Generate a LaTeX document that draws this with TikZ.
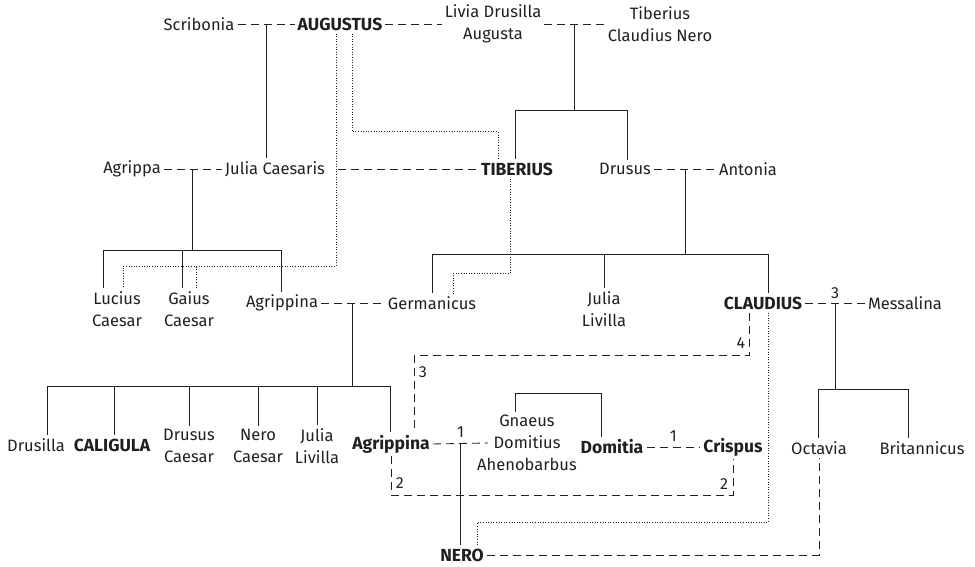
\documentclass[tikz,border=0pt]{standalone}
\usepackage{fontspec}
\setmainfont{Fira Sans}
\definecolor{ink}{RGB}{35,31,32}
\tikzset{
  person/.style={inner sep=3pt, align=center, text=ink, font=\fontsize{16.5}{22}\selectfont},
  ruler/.style={person, font=\fontsize{17.5}{22}\selectfont\bfseries},
  descent/.style={draw=ink, line width=0.9pt},
  marriage/.style={draw=ink, line width=0.9pt, dash pattern=on 8pt off 5pt},
  adoption/.style={draw=ink, line width=0.9pt, dash pattern=on 1pt off 1.6pt},
  nb/.style={inner sep=1.5pt, text=ink, font=\fontsize{16}{17}\selectfont}
}
\begin{document}
\begin{tikzpicture}[x=1pt, y=-1pt]
  \useasboundingbox (0,0) rectangle (975,566);

  \node[person] (scribonia)   at (199,24)  {Scribonia};
  \node[ruler]  (augustus)    at (340,24)  {AUGUSTUS};
  \node[person] (livia)       at (493,24)  {Livia Drusilla\\Augusta};
  \node[person] (tcn)         at (660,24)  {Tiberius\\Claudius Nero};

  \node[person] (agrippa)     at (132,169) {Agrippa};
  \node[person] (juliaC)      at (275,169) {Julia Caesaris};
  \node[ruler]  (tiberius)    at (517,169) {TIBERIUS};
  \node[person] (drusus)      at (625,169) {Drusus};
  \node[person] (antonia)     at (748,169) {Antonia};

  \node[person] (lucius)      at (117,309) {Lucius\\Caesar};
  \node[person] (gaius)       at (189,309) {Gaius\\Caesar};
  \node[person] (agrippinaM)  at (282,303) {Agrippina};
  \node[person] (germanicus)  at (432,303) {Germanicus};
  \node[person] (juliaL)      at (604,309) {Julia\\Livilla};
  \node[ruler]  (claudius)    at (763,303) {CLAUDIUS};
  \node[person] (messalina)   at (905,303) {Messalina};

  \node[person] (drusilla)    at (36,445)  {Drusilla};
  \node[ruler]  (caligula)    at (112,445) {CALIGULA};
  \node[person] (drususC)     at (189,446) {Drusus\\Caesar};
  \node[person] (neroC)       at (258,446) {Nero\\Caesar};
  \node[person] (juliaL2)     at (317,446) {Julia\\Livilla};
  \node[ruler]  (agrippina)   at (391,444) {Agrippina};
  \node[person] (gnaeus)      at (527,443) {Gnaeus\\Domitius\\Ahenobarbus};
  \node[ruler]  (domitia)     at (612,447) {Domitia};
  \node[ruler]  (crispus)     at (733,447) {Crispus};
  \node[person] (octavia)     at (819,448) {Octavia};
  \node[person] (britannicus) at (922,448) {Britannicus};
  \node[ruler]  (nero)        at (462,555) {NERO};

  \draw[marriage] (scribonia) -- coordinate (jSA) (augustus);
  \draw[marriage] (augustus) -- (livia);
  \draw[marriage] (livia) -- coordinate (jLT) (tcn);
  \draw[marriage] (agrippa) -- coordinate (jAJ) (juliaC);
  \draw[marriage] ([xshift=10pt]juliaC.east) -- (tiberius.west);
  \draw[marriage] (drusus) -- coordinate (jDA) (antonia);
  \draw[marriage] (agrippinaM) -- coordinate (jAG) (germanicus);
  \draw[marriage] (claudius) -- coordinate (jCM) (messalina);
  \node[nb, above=3pt] (n3) at (jCM) {3};
  \draw[marriage] (agrippina.east) -- coordinate (jAN) ([xshift=14pt]gnaeus.west);
  \node[nb, above=4pt] (n1) at (jAN) {1};
  \draw[marriage] (domitia) -- node[nb, above=4pt] (n1b) {1} (crispus);

  \draw[descent] (jSA) -- (jSA |- juliaC.north);
  \draw[descent] (jAN) -- (jAN |- nero.north);

  \path (jLT) ++(0,86) coordinate (barT);
  \path (jAJ) ++(0,81) coordinate (barJ);
  \path (jDA) ++(0,85) coordinate (barD);
  \path (jAG) ++(0,83) coordinate (barG);
  \path (jCM) ++(0,86) coordinate (barM);
  \foreach \bar/\kids in {barT/{tiberius/-2pt, drusus/2pt},
                          barJ/{lucius/-14pt, gaius/-7pt, agrippinaM/-1pt},
                          barD/{germanicus/0pt, juliaL/0pt, claudius/5pt},
                          barG/{drusilla/11pt, caligula/2pt, drususC/0pt, neroC/0pt, juliaL2/0pt, agrippina/-1pt},
                          barM/{octavia/-1pt, britannicus/-14pt}} {
    \foreach \kid/\dx in \kids
      \draw[descent] (\bar) -| ([xshift=\dx]\kid.north);
  }
  \draw[descent] (jLT) -- (barT);
  \draw[descent] (jAJ) -- (barJ);
  \draw[descent] (jDA) -- (barD);
  \draw[descent] (jAG) -- (barG);
  \draw[descent] (jCM) -- (barM);
  \draw[descent] ([xshift=-12pt]gnaeus.north) -- ++(0,-18) -| ([xshift=-11pt]domitia.north);

  \draw[adoption] ([xshift=-4pt]augustus.south) -- ++(0,233) coordinate (adoptL) -| ([xshift=6pt]lucius.north);
  \draw[adoption] ([xshift=7pt]gaius.north) -- ([xshift=7pt]gaius.north |- adoptL);
  \draw[adoption] ([xshift=12pt]augustus.south) -- ++(0,98) -| ([xshift=-19pt]tiberius.north);
  \draw[adoption] ([xshift=-7pt]tiberius.south) -- ++(0,95) -| ([xshift=21pt]germanicus.north);
  \draw[adoption] ([xshift=5pt]claudius.south) -- ++(0,210) -| ([xshift=15pt]nero.north);

  \draw[marriage] ([xshift=-14pt]claudius.south) -- ++(0,43) node[nb, pos=0.7, left=2pt] (k4) {4}
    -| node[nb, pos=0.61, right=3pt] (k3) {3} ([xshift=23pt]agrippina.north);
  \draw[marriage] (agrippina.south) -- ++(0,39) node[nb, pos=0.68, right=3pt] (k2) {2}
    -| node[nb, pos=0.66, left=3pt] (k2b) {2} (crispus.south);
  \draw[marriage] (nero.east) -| (octavia.south);
\end{tikzpicture}
\end{document}
